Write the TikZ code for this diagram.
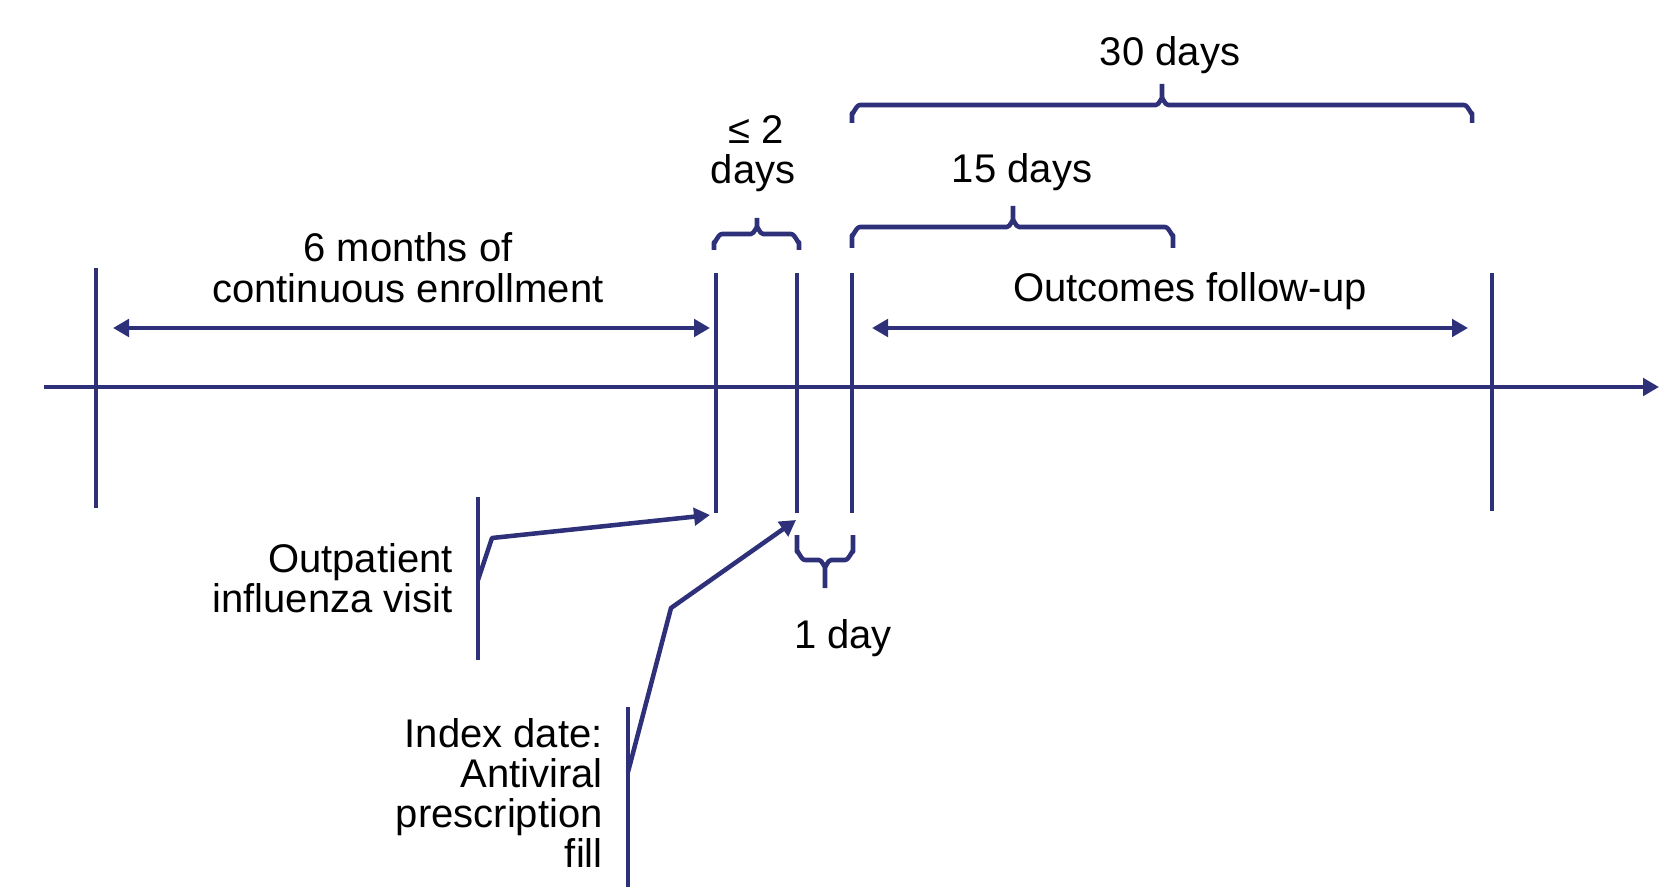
\documentclass[tikz,border=0pt]{standalone}
\usepackage{fontspec}
\setmainfont{Liberation Sans}
\usetikzlibrary{arrows.meta}
\definecolor{navy}{RGB}{46,49,122}
\tikzset{
  ln/.style={draw=navy,line width=3.4pt},
  tip/.style={-{Triangle[length=12pt,width=13pt]}},
  dtip/.style={{Triangle[length=12pt,width=13pt]}-{Triangle[length=12pt,width=13pt]}},
  lbl/.style={inner sep=0pt,anchor=base,font=\fontsize{30pt}{30pt}\selectfont,text=black},
}
\begin{document}
\begin{tikzpicture}[x=0.75pt,y=-0.75pt]
\useasboundingbox (0,0) rectangle (1659,887);
% axis
\coordinate (ax0) at (44,387);
\coordinate (ax1) at (1659,387);
\draw[ln,tip] (ax0) -- (ax1);
% ticks
\coordinate (t1a) at (96,268);  \coordinate (t1b) at (96,508);
\coordinate (t2a) at (716,273); \coordinate (t2b) at (716,513);
\coordinate (t3a) at (797,273); \coordinate (t3b) at (797,513);
\coordinate (t4a) at (852,273); \coordinate (t4b) at (852,513);
\coordinate (t5a) at (1492,273);\coordinate (t5b) at (1492,511);
\foreach \t in {t1,t2,t3,t4,t5}{\draw[ln] (\t a) -- (\t b);}
% range arrows
\coordinate (e0) at (113,328); \coordinate (e1) at (710,328);
\draw[ln,dtip] (e0) -- (e1);
\coordinate (o0) at (872,328); \coordinate (o1) at (1468,328);
\draw[ln,dtip] (o0) -- (o1);
% braces (pointing up): x1, x2, xm, yline, yend, ytip
\newcommand{\upbrace}[6]{%
  \draw[ln,line join=round] (#1,#5) -- (#1,#4+8) to[out=-90,in=180] (#1+8,#4) -- (#3-6,#4) to[out=0,in=90] (#3,#4-6) -- (#3,#6);
  \draw[ln,line join=round] (#2,#5) -- (#2,#4+8) to[out=-90,in=0] (#2-8,#4) -- (#3+6,#4) to[out=180,in=90] (#3,#4-6);}
\upbrace{852}{1472}{1162}{105}{123}{84}
\upbrace{852}{1173}{1013}{227}{248}{206}
\upbrace{714}{799}{757}{234}{250}{218}
% 1 day brace (pointing down)
\draw[ln,line join=round] (797,535) -- (797,552) to[out=90,in=180] (805,560) -- (819,560) to[out=0,in=-90] (825,566) -- (825,588);
\draw[ln,line join=round] (853,535) -- (853,552) to[out=90,in=0] (845,560) -- (831,560) to[out=180,in=-90] (825,566);
% labels
\node[lbl] (l30) at (1170,66) {30 days};
\node[lbl] (l2a) at (756,144) {≤ 2};
\node[lbl] (l2b) at (753,184) {days};
\node[lbl] (l15) at (1022,183) {15 days};
\node[lbl] (lm1) at (408,262) {6 months of};
\node[lbl] (lm2) at (408,303) {continuous enrollment};
\node[lbl] (lout) at (1190,302) {Outcomes follow-up};
\node[lbl] (l1d) at (843,648) {1 day};
\node[lbl,anchor=base east] (op1) at (453,572) {Outpatient};
\node[lbl,anchor=base east] (op2) at (453,612) {influenza visit};
\node[lbl,anchor=base east] (ix1) at (603,747) {Index date:};
\node[lbl,anchor=base east] (ix2) at (603,787) {Antiviral};
\node[lbl,anchor=base east] (ix3) at (603,827) {prescription};
\node[lbl,anchor=base east] (ix4) at (603,867) {fill};
% callout bars and connectors
\coordinate (ob0) at (478,497); \coordinate (ob1) at (478,660);
\draw[ln] (ob0) -- (ob1);
\coordinate (oc0) at (478,580); \coordinate (oc1) at (492,538); \coordinate (oc2) at (710,515);
\draw[ln,tip,line join=round] (oc0) -- (oc1) -- (oc2);
\coordinate (ib0) at (628,707); \coordinate (ib1) at (628,887);
\draw[ln] (ib0) -- (ib1);
\coordinate (ic0) at (628,772); \coordinate (ic1) at (671,608); \coordinate (ic2) at (796,520);
\draw[ln,tip,line join=round] (ic0) -- (ic1) -- (ic2);
\end{tikzpicture}
\end{document}
